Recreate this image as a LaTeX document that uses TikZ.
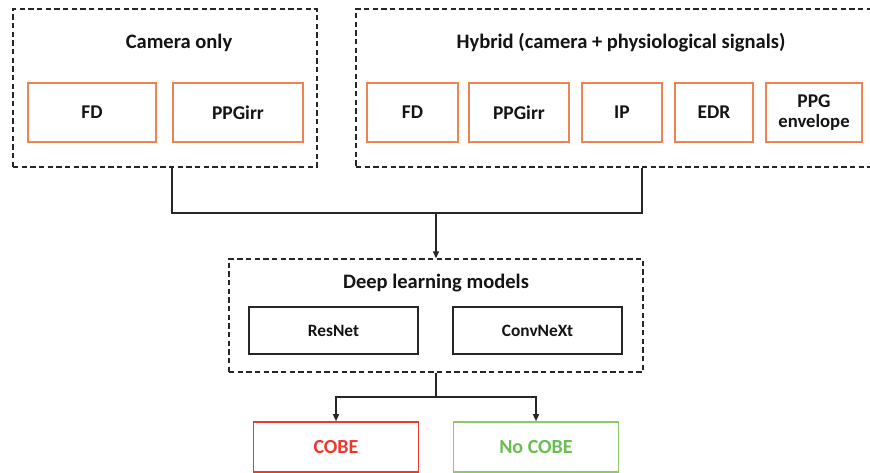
\documentclass[tikz,border=0pt]{standalone}
\usepackage{fontspec}
\setmainfont{Carlito}
\usetikzlibrary{arrows.meta}
\newdimen\pxu \pxu=0.75pt
\definecolor{sigorange}{RGB}{238,130,80}
\definecolor{cobered}{RGB}{238,55,45}
\definecolor{nogreen}{RGB}{105,190,80}
\definecolor{nogreenline}{RGB}{140,202,105}
\definecolor{txt}{RGB}{20,20,20}
\tikzset{
  group/.style={draw=black!85, line width=1.0pt, dash pattern=on 4pt off 2.5pt, inner sep=0pt},
  sigbox/.style={draw=sigorange, line width=1.2pt, minimum height=59\pxu, inner sep=0pt, align=center, text=txt, font=\fontsize{14.6}{15.5}\selectfont\bfseries},
  modelbox/.style={draw=black!85, line width=1.0pt, minimum width=169\pxu, minimum height=47\pxu, inner sep=0pt, text=txt, font=\fontsize{13}{15}\selectfont\bfseries},
  title/.style={text=txt, font=\fontsize{15.4}{18}\selectfont\bfseries, inner sep=0pt},
  outbox/.style={line width=1.2pt, minimum width=165\pxu, minimum height=50\pxu, inner sep=0pt, font=\fontsize{15}{18}\selectfont\bfseries},
  conn/.style={draw=black!85, line width=1.1pt},
  arr/.style={conn, -{Triangle[length=5.25pt,width=4.5pt]}}
}
\begin{document}
\begin{tikzpicture}[x=0.75pt,y=-0.75pt]
\clip (0,0) rectangle (870,473);
\fill[white] (0,0) rectangle (870,473);
% Camera only group
\node[group, minimum width=304\pxu, minimum height=158\pxu] (cam) at (165,88) {};
\node[title] (camt) at (179,43) {Camera only};
\node[sigbox, minimum width=128\pxu] (fd1) at (92,112.5) {FD};
\node[sigbox, minimum width=130\pxu] (ppg1) at (238,112.5) {PPGirr};
% Hybrid group
\node[group, minimum width=530\pxu, minimum height=158\pxu] (hyb) at (621,88) {};
\node[title] (hybt) at (621,43) {Hybrid (camera + physiological signals)};
\node[sigbox, minimum width=91\pxu] (fd2) at (412.5,112.5) {FD};
\node[sigbox, minimum width=100\pxu] (ppg2) at (519,112.5) {PPGirr};
\node[sigbox, minimum width=80\pxu] (ip) at (622,112.5) {IP};
\node[sigbox, minimum width=78\pxu] (edr) at (714,112.5) {EDR};
\node[sigbox, minimum width=96\pxu] (env) at (814,112.5) {PPG\\[-1pt]{\fontsize{14}{15}\selectfont envelope}};
% Deep learning group
\node[group, minimum width=414\pxu, minimum height=113\pxu] (dl) at (436,315.5) {};
\node[title] (dlt) at (436,283) {Deep learning models};
\node[modelbox] (res) at (333.5,330.5) {ResNet};
\node[modelbox] (conv) at (537.5,330.5) {ConvNeXt};
% Outputs
\node[outbox, draw=cobered, text=cobered] (cobe) at (336,447) {COBE};
\node[outbox, draw=nogreenline, text=nogreen] (nocobe) at (536,447) {No COBE};
% Connectors
\coordinate (ja) at (172,213);
\coordinate (jb) at (642,213);
\coordinate (jm) at (436,213);
\coordinate (jd) at (436,397);
\draw[conn] (cam.south -| ja) -- (ja) -- (jb) -- (hyb.south -| jb);
\draw[arr] (jm) -- (dl.north);
\draw[conn] (dl.south) -- (jd);
\draw[arr] (jd) -| (cobe.north);
\draw[arr] (jd) -| (nocobe.north);
\end{tikzpicture}
\end{document}
